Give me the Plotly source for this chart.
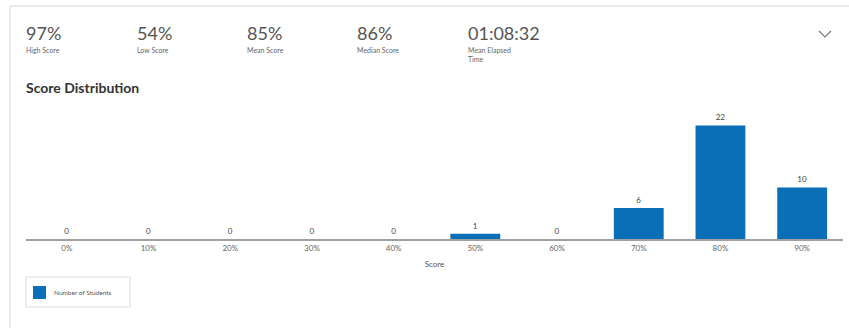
import plotly.graph_objects as go

W, H = 849, 328

categories = ["0%", "10%", "20%", "30%", "40%", "50%", "60%", "70%", "80%", "90%"]
students = [0, 0, 0, 0, 0, 1, 0, 6, 22, 10]
series_name = "Number of Students"

stat_values = ["97%", "54%", "85%", "86%", "01:08:32"]
stat_labels = ["High Score", "Low Score", "Mean Score", "Median Score", "Mean Elapsed<br>Time"]
stat_x_px = [25, 136, 246, 356, 467]

FONT = "Lato"
BLUE = "#0a6fb7"

def px(x):
    return x / W

def py(y):
    return 1 - y / H

fig = go.Figure()
fig.add_trace(go.Bar(
    x=categories, y=students, name=series_name,
    marker=dict(color=BLUE, line=dict(width=0)),
    text=[str(v) for v in students], textposition="outside",
    textfont=dict(family=FONT, size=8, color="#444"),
    cliponaxis=False, showlegend=False,
))

annotations = []
for v, lab, x in zip(stat_values, stat_labels, stat_x_px):
    annotations.append(dict(text=v, x=px(x - 1), y=py(33), xref="paper", yref="paper",
                            xanchor="left", yanchor="middle", showarrow=False,
                            font=dict(family=FONT, size=18, color="#555")))
    annotations.append(dict(text=lab, x=px(x - 1), y=py(44), xref="paper", yref="paper",
                            xanchor="left", yanchor="top", showarrow=False, align="left",
                            font=dict(family=FONT, size=7, color="#666")))
annotations.append(dict(text="<b>Score Distribution</b>", x=px(24), y=py(87), xref="paper", yref="paper",
                        xanchor="left", yanchor="middle", showarrow=False,
                        font=dict(family=FONT, size=14, color="#333")))
# legend text
annotations.append(dict(text=series_name, x=px(52), y=py(292), xref="paper", yref="paper",
                        xanchor="left", yanchor="middle", showarrow=False,
                        font=dict(family=FONT, size=6.5, color="#555")))

shapes = [
    dict(type="line", xref="paper", yref="paper", x0=px(10), x1=px(849), y0=py(6), y1=py(6),
         line=dict(color="#e4e4e4", width=1.5)),
    dict(type="line", xref="paper", yref="paper", x0=px(10), x1=px(10), y0=py(6), y1=py(328),
         line=dict(color="#e4e4e4", width=1.5)),
    dict(type="path", xref="paper", yref="paper",
         path=f"M {px(819)},{py(31)} L {px(825)},{py(37)} L {px(831)},{py(31)}",
         line=dict(color="#777", width=1.2)),
    # legend box
    dict(type="rect", xref="paper", yref="paper", x0=px(26), x1=px(130), y0=py(277), y1=py(307),
         line=dict(color="#dddddd", width=1), fillcolor="white"),
    dict(type="rect", xref="paper", yref="paper", x0=px(33), x1=px(46), y0=py(286), y1=py(299),
         line=dict(width=0), fillcolor=BLUE),
]

fig.update_layout(
    width=W, height=H,
    margin=dict(l=0, r=0, t=0, b=0),
    paper_bgcolor="white", plot_bgcolor="white",
    font=dict(family=FONT, color="#666"),
    bargap=0.39,
    showlegend=False,
    xaxis=dict(domain=[px(26), px(843)], showline=True, linecolor="#a0a0a0", linewidth=2,
               ticks="", showgrid=False, zeroline=False,
               tickfont=dict(family=FONT, size=8, color="#666"),
               title=dict(text="Score", font=dict(family=FONT, size=8, color="#555"), standoff=10)),
    yaxis=dict(domain=[py(239), py(110)], range=[0, 25], visible=False, showgrid=False),
    annotations=annotations,
    shapes=shapes,
)

fig.write_html("out.html")
